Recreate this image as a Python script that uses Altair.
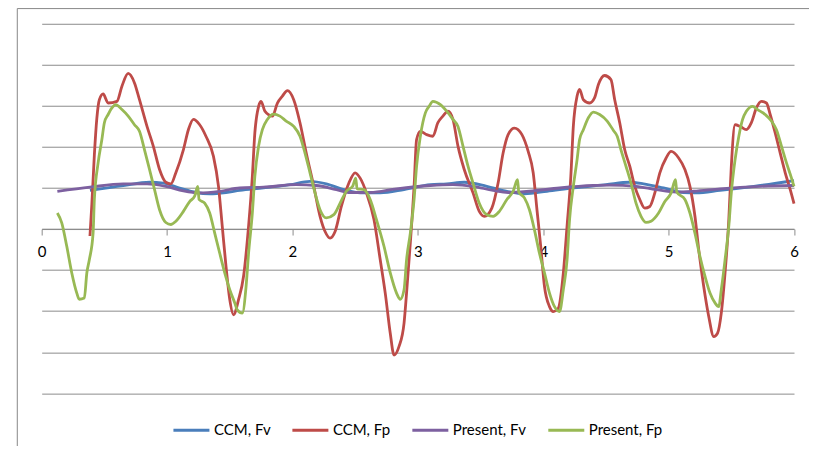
import altair as alt
import pandas as pd

# ---- data (x = time, y = force in grid units) ----
ccm_fv = [(0.385,0.94),(0.65,1.06),(0.86,1.14),(0.97,1.12),(1.10,1.0),(1.23,0.89),(1.34,0.86),(1.47,0.89),
          (1.58,0.94),(1.77,1.0),(1.98,1.08),(2.14,1.16),(2.27,1.1),(2.41,0.96),(2.54,0.88),(2.70,0.88),
          (2.89,0.96),(3.10,1.08),(3.23,1.1),(3.37,1.14),(3.55,1.04),(3.71,0.92),(3.85,0.86),(4.03,0.92),
          (4.24,1.0),(4.50,1.08),(4.69,1.14),(4.80,1.1),(4.96,1.0),(5.12,0.89),(5.22,0.88),(5.41,0.94),
          (5.68,1.04),(6.0,1.18)]

ccm_fp = [(0.385,-0.17),(0.40,0.6),(0.42,1.8),(0.44,2.7),(0.46,3.15),(0.49,3.29),(0.53,3.07),(0.60,3.11),
          (0.64,3.48),(0.69,3.79),(0.74,3.56),(0.78,3.15),(0.84,2.5),(0.89,2.02),(0.94,1.45),(0.99,1.14),
          (1.03,1.1),(1.07,1.37),(1.13,1.93),(1.17,2.42),(1.21,2.67),(1.26,2.54),(1.31,2.26),(1.37,1.77),
          (1.41,1.04),(1.44,0.07),(1.47,-0.91),(1.50,-1.72),(1.53,-2.09),(1.57,-1.72),(1.61,-1.15),(1.65,0.07),
          (1.68,1.28),(1.70,2.34),(1.73,2.99),(1.75,3.11),(1.78,2.87),(1.84,2.75),(1.88,3.07),(1.92,3.24),
          (1.96,3.37),(2.01,3.15),(2.06,2.59),(2.11,1.85),(2.17,1.04),(2.22,0.31),(2.26,-0.06),(2.30,-0.22),
          (2.34,-0.06),(2.39,0.55),(2.45,1.12),(2.50,1.37),(2.54,1.24),(2.59,0.88),(2.65,0.23),(2.70,-0.75),
          (2.74,-1.56),(2.78,-2.54),(2.81,-3.07),(2.85,-2.86),(2.89,-2.29),(2.91,-1.56),(2.94,-0.34),(2.97,1.04),
          (2.99,2.18),(3.02,2.38),(3.07,2.30),(3.12,2.26),(3.16,2.59),(3.20,2.75),(3.24,2.87),(3.28,2.67),
          (3.32,2.02),(3.37,1.45),(3.44,0.88),(3.49,0.43),(3.53,0.31),(3.59,0.51),(3.64,1.12),(3.68,1.85),
          (3.72,2.30),(3.77,2.46),(3.83,2.30),(3.88,1.89),(3.92,1.37),(3.95,0.47),(3.98,-0.42),(4.01,-1.40),
          (4.05,-1.89),(4.08,-2.01),(4.12,-1.93),(4.16,-1.08),(4.19,0.07),(4.22,1.28),(4.24,2.50),(4.27,3.24),
          (4.29,3.40),(4.32,3.15),(4.37,3.07),(4.41,3.20),(4.44,3.52),(4.49,3.74),(4.54,3.64),(4.57,3.15),
          (4.61,2.59),(4.65,1.93),(4.69,1.53),(4.73,1.04),(4.77,0.72),(4.81,0.51),(4.85,0.55),(4.89,0.88),
          (4.93,1.37),(4.98,1.73),(5.02,1.89),(5.08,1.73),(5.13,1.45),(5.17,1.04),(5.21,0.31),(5.24,-0.50),
          (5.28,-1.40),(5.32,-2.13),(5.36,-2.62),(5.39,-2.54),(5.42,-2.05),(5.45,-1.07),(5.48,0.23),(5.50,1.53),
          (5.53,2.54),(5.57,2.50),(5.62,2.42),(5.66,2.59),(5.70,2.95),(5.74,3.11),(5.78,3.07),(5.81,2.79),
          (5.85,2.34),(5.89,1.85),(5.93,1.37),(5.97,0.96),(6.0,0.62)]

present_fv = [(0.125,0.92),(0.385,1.02),(0.65,1.1),(0.84,1.1),(0.99,1.04),(1.13,0.93),(1.26,0.88),(1.42,0.92),
              (1.58,1.0),(1.77,1.02),(2.03,1.08),(2.19,1.06),(2.35,0.96),(2.46,0.89),(2.62,0.89),(2.83,0.98),
              (3.10,1.06),(3.28,1.08),(3.44,1.04),(3.60,0.94),(3.72,0.89),(3.89,0.92),(4.13,1.0),(4.40,1.06),
              (4.53,1.07),(4.74,1.04),(4.90,0.96),(5.06,0.90),(5.20,0.92),(5.41,0.98),(5.73,1.04),(6.0,1.06)]

present_fp = [(0.125,0.39),(0.16,0.15),(0.20,-0.42),(0.24,-1.07),(0.28,-1.56),(0.30,-1.71),(0.34,-1.68),(0.36,-1.07),
              (0.38,-0.75),(0.41,-0.10),(0.42,0.72),(0.45,1.61),(0.48,2.18),(0.50,2.59),(0.53,2.79),(0.56,2.95),
              (0.59,3.03),(0.64,2.91),(0.69,2.75),(0.74,2.54),(0.78,2.38),(0.82,1.93),(0.86,1.45),(0.90,0.96),
              (0.94,0.47),(0.99,0.16),(1.03,0.11),(1.07,0.19),(1.13,0.43),(1.18,0.67),(1.22,0.80),(1.245,1.04),
              (1.255,0.72),(1.30,0.63),(1.34,0.39),(1.38,-0.10),(1.42,-0.59),(1.46,-1.07),(1.50,-1.48),(1.54,-1.80),
              (1.56,-1.97),(1.60,-2.05),(1.63,-1.40),(1.65,-0.59),(1.68,0.39),(1.70,1.28),(1.73,2.02),(1.76,2.42),
              (1.80,2.67),(1.85,2.80),(1.90,2.75),(1.95,2.63),(2.01,2.50),(2.06,2.26),(2.10,1.85),(2.14,1.37),
              (2.18,0.88),(2.22,0.47),(2.27,0.27),(2.33,0.35),(2.38,0.63),(2.43,0.92),(2.48,1.04),(2.505,1.24),
              (2.515,0.98),(2.57,0.96),(2.62,0.72),(2.67,0.23),(2.73,-0.42),(2.78,-1.07),(2.83,-1.56),(2.86,-1.71),
              (2.89,-1.48),(2.91,-0.75),(2.94,-0.10),(2.97,0.72),(2.99,1.53),(3.02,2.26),(3.06,2.83),(3.09,2.99),
              (3.12,3.11),(3.18,3.03),(3.23,2.87),(3.28,2.67),(3.32,2.50),(3.36,2.02),(3.40,1.53),(3.44,1.12),
              (3.49,0.63),(3.55,0.35),(3.60,0.31),(3.65,0.43),(3.71,0.72),(3.76,0.92),(3.795,1.20),(3.805,0.90),
              (3.85,0.76),(3.89,0.47),(3.93,-0.02),(3.97,-0.59),(4.01,-1.07),(4.05,-1.56),(4.09,-1.89),(4.13,-2.01),
              (4.16,-1.48),(4.19,-0.75),(4.21,0.23),(4.24,1.04),(4.27,1.69),(4.29,2.18),(4.32,2.42),(4.36,2.71),
              (4.40,2.85),(4.45,2.79),(4.51,2.63),(4.56,2.40),(4.59,2.26),(4.62,1.93),(4.66,1.53),(4.70,1.12),
              (4.74,0.63),(4.78,0.31),(4.82,0.16),(4.86,0.19),(4.92,0.39),(4.97,0.67),(5.02,0.88),(5.055,1.20),
              (5.065,0.90),(5.13,0.72),(5.17,0.39),(5.21,-0.10),(5.25,-0.67),(5.29,-1.15),(5.33,-1.56),(5.37,-1.80),
              (5.40,-1.89),(5.42,-1.48),(5.45,-0.75),(5.48,0.07),(5.50,0.88),(5.53,1.69),(5.56,2.26),(5.59,2.67),
              (5.62,2.87),(5.67,2.99),(5.71,2.91),(5.77,2.79),(5.82,2.63),(5.86,2.42),(5.90,2.02),(5.94,1.61),
              (5.98,1.24),(6.0,1.04)]

series_names = ["CCM, Fv", "CCM, Fp", "Present, Fv", "Present, Fp"]
series_colors = ["#4A7EBB", "#BE4B48", "#7D60A0", "#98B954"]
x_ticks = [0, 1, 2, 3, 4, 5, 6]
grid_levels = [-4, -3, -2, -1, 0, 1, 2, 3, 4, 5]

rows = []
for name, pts in zip(series_names, [ccm_fv, ccm_fp, present_fv, present_fp]):
    for i, (x, y) in enumerate(pts):
        rows.append({"series": name, "t": x, "f": y, "i": i})
df = pd.DataFrame(rows)

W, H = 752.6, 369.6
zero_offset = -(H - H * 5 / 9)
GRAY = "#8c8c8c"

color = alt.Color(
    "series:N",
    scale=alt.Scale(domain=series_names, range=series_colors),
    legend=alt.Legend(
        title=None, orient="none", direction="horizontal", legendX=130.3, legendY=387,
        symbolType="stroke", symbolSize=1296, symbolStrokeWidth=3,
        labelFont="Lato", labelFontSize=15, labelColor="#000000",
        labelOffset=3, columnPadding=15, padding=0, columns=4,
    ),
)
x_enc = alt.X(
    "t:Q",
    scale=alt.Scale(domain=[0, 6], nice=False),
    axis=alt.Axis(values=x_ticks, format="d", offset=zero_offset, title=None, grid=False,
                  domainColor=GRAY, tickColor=GRAY, tickSize=6, labelPadding=9, labelFlush=False,
                  labelFont="Lato", labelFontSize=15, labelColor="#000000"),
)
y_enc = alt.Y(
    "f:Q",
    scale=alt.Scale(domain=[-4, 5], nice=False, zero=False),
    axis=alt.Axis(values=grid_levels, labels=False, ticks=False, domain=False, grid=True,
                  gridColor=GRAY, gridWidth=1, title=None),
)

border = alt.Chart(pd.DataFrame({"k": [0]})).mark_rect(
    fill="transparent", stroke="#888888", strokeWidth=1
).encode(x=alt.value(-24.4), y=alt.value(-15.2), x2=alt.value(W + 80), y2=alt.value(H + 90))

layers = [border]
for name in series_names:
    layers.append(
        alt.Chart(df).transform_filter(alt.datum.series == name)
        .mark_line(strokeWidth=2.8, interpolate="monotone")
        .encode(x=x_enc, y=y_enc, color=color, order="i:Q")
    )

chart = alt.layer(*layers).properties(
    width=W, height=H,
    autosize=alt.AutoSizeParams(type="none"),
    padding={"left": 33.7, "top": 15.7, "right": 15, "bottom": 52.7},
    background="white",
).configure_view(strokeWidth=0)

chart.save("out.html", embed_options={"renderer": "svg", "actions": False})
